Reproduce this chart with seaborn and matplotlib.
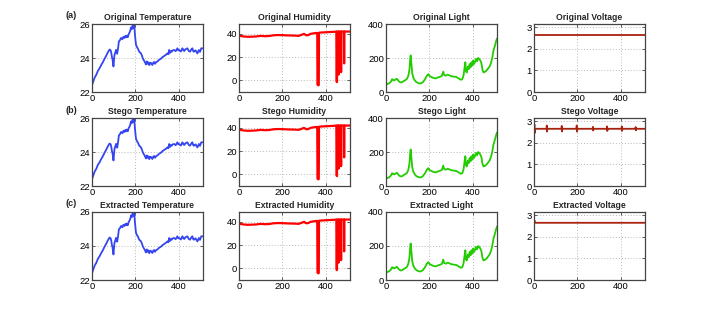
import matplotlib
matplotlib.use("Agg")
import matplotlib.pyplot as plt
import seaborn as sns
import pandas as pd

# ---------------- data ----------------
temp_x = [0, 6, 12, 20, 27, 35, 43, 50, 58, 65, 73, 81, 86, 89, 92, 95, 99, 102, 104, 108, 111, 116, 120,
          124, 129, 134, 140, 145, 150, 154, 157, 161, 165, 169, 173, 177, 180, 184, 188, 192, 195, 198,
          201, 203, 207, 211, 218, 226, 230, 235, 240, 244, 249, 253, 257, 261, 264, 268, 272, 276, 279,
          283, 287, 291, 295, 302, 310, 318, 325, 333, 340, 348, 352, 356, 360, 363, 368, 372, 379, 386,
          394, 398, 402, 410, 417, 421, 425, 432, 440, 446, 452, 458, 463, 467, 470, 478, 486, 490, 493,
          498, 504, 510]
temp_y = [22.40, 22.62, 22.84, 23.02, 23.24, 23.40, 23.60, 23.75, 23.96, 24.12, 24.33, 24.50, 24.45, 24.30,
          24.05, 23.90, 23.50, 23.95, 24.20, 24.35, 24.48, 24.25, 24.55, 24.98, 25.05, 25.18, 25.10,
          25.25, 25.18, 25.30, 25.22, 25.32, 25.22, 25.40, 25.49, 25.62, 25.80, 25.70, 25.94, 25.78,
          25.90, 25.40, 25.00, 24.78, 24.65, 24.57, 24.37, 24.27, 24.15, 23.96, 23.85, 23.76, 23.62,
          23.80, 23.66, 23.74, 23.58, 23.72, 23.71, 23.62, 23.59, 23.74, 23.76, 23.66, 23.75, 23.80,
          23.90, 23.96, 24.05, 24.12, 24.18, 24.27, 24.22, 24.47, 24.30, 24.40, 24.37, 24.45, 24.47,
          24.40, 24.57, 24.45, 24.47, 24.38, 24.57, 24.48, 24.41, 24.52, 24.57, 24.42, 24.37, 24.50,
          24.57, 24.40, 24.37, 24.45, 24.27, 24.38, 24.47, 24.36, 24.57, 24.57]

hum_x = [0, 20, 40, 60, 80, 100, 120, 140, 160, 180, 200, 220, 240, 260, 275, 290, 300, 310, 320, 330,
         345, 358, 361, 362, 366, 368, 369, 380, 400, 420, 440, 449, 450, 452, 453, 458, 459, 460, 470,
         471, 472, 484, 485, 486, 500, 512]
hum_y = [38.5, 37.8, 37.5, 37.6, 37.8, 38.3, 38.0, 38.2, 38.8, 39.0, 38.9, 38.7, 38.6, 38.5, 38.3, 39.3,
         40.0, 38.8, 39.0, 40.0, 40.5, 40.8, 40.8, -3.7, -4.3, -4.0, 41.0, 41.2, 41.4, 41.6, 41.8, 42.0,
         -0.9, -1.5, 42.0, 42.0, 4.9, 42.0, 42.0, 7.1, 42.0, 42.0, 14.6, 42.0, 42.0, 42.0]

light_x = [0, 8, 15, 22, 28, 33, 38, 45, 50, 55, 60, 68, 75, 82, 90, 97, 103, 108, 112, 114, 117, 121,
           126, 132, 140, 150, 160, 170, 180, 188, 195, 200, 210, 220, 230, 240, 250, 258, 264, 268, 275,
           285, 295, 305, 315, 325, 335, 345, 352, 358, 363, 366, 369, 373, 378, 382, 386, 390, 394, 398,
           402, 406, 410, 415, 420, 425, 430, 435, 440, 445, 450, 455, 460, 466, 472, 478, 484, 490, 496,
           502, 507, 512]
light_y = [42, 48, 52, 60, 75, 72, 68, 74, 78, 70, 62, 56, 58, 65, 70, 78, 95, 130, 200, 215, 170, 110,
           85, 70, 58, 52, 50, 58, 75, 95, 105, 95, 88, 82, 80, 86, 90, 95, 120, 100, 96, 102, 96, 92, 90,
           88, 80, 72, 75, 100, 150, 175, 120, 115, 150, 135, 165, 145, 175, 155, 185, 165, 175, 195, 180,
           200, 195, 185, 170, 130, 115, 118, 122, 130, 140, 150, 170, 200, 245, 270, 295, 315]

volt_orig_x = [0, 512]
volt_orig_y = [2.65, 2.65]

volt_stego_x = [0, 2, 3, 5, 58, 59, 60, 62, 127, 128, 129, 131, 196, 197, 198, 200, 271, 272, 273, 275,
                336, 337, 338, 340, 404, 405, 406, 408, 468, 469, 470, 472, 512]
volt_stego_y = [2.65, 2.85, 2.45, 2.65, 2.65, 2.80, 2.52, 2.65, 2.65, 2.78, 2.53, 2.65, 2.65, 2.80,
                2.52, 2.65, 2.65, 2.74, 2.57, 2.65, 2.65, 2.76, 2.55, 2.65, 2.65, 2.76, 2.55, 2.65,
                2.65, 2.73, 2.58, 2.65, 2.65]

volt_ext_x = [0, 2, 4, 512]
volt_ext_y = [2.65, 2.76, 2.65, 2.65]

row_labels = ["(a)", "(b)", "(c)"]
row_names = ["Original", "Stego", "Extracted"]
col_names = ["Temperature", "Humidity", "Light", "Voltage"]

# ---------------- styling ----------------
sns.set_style("white")
plt.rcParams["font.family"] = ["Liberation Sans", "DejaVu Sans"]

W, H = 712, 316
fig = plt.figure(figsize=(W / 100, H / 100), dpi=100)

col_left = [92, 239, 386, 534]
col_w = 111
row_top = [24, 118, 212]
row_h = 68

colors = ["#3545ef", "#ff0000", "#22cc00", "#a8220f"]
ylims = [(22, 26), (-10, 48.5), (0, 400), (0, 3.15)]
yticks = [[22, 24, 26], [0, 20, 40], [0, 200, 400], [0, 1, 2, 3]]

volt_rows = [(volt_orig_x, volt_orig_y), (volt_stego_x, volt_stego_y), (volt_ext_x, volt_ext_y)]

for r in range(3):
    for c in range(4):
        left = col_left[c] / W
        bottom = 1 - (row_top[r] + row_h) / H
        ax = fig.add_axes([left, bottom, col_w / W, row_h / H])
        if c == 0:
            xs, ys = temp_x, temp_y
        elif c == 1:
            xs, ys = hum_x, hum_y
        elif c == 2:
            xs, ys = light_x, light_y
        else:
            xs, ys = volt_rows[r]
        df = pd.DataFrame({"x": xs, "y": ys})
        lw = 1.6 if c == 1 else 1.3
        sns.lineplot(data=df, x="x", y="y", ax=ax, color=colors[c], lw=lw,
                     estimator=None, sort=False)
        ax.set_xlim(0, 512)
        ax.set_ylim(*ylims[c])
        ax.set_xticks([0, 200, 400])
        ax.set_yticks(yticks[c])
        ax.set_xlabel("")
        ax.set_ylabel("")
        ax.grid(True, linestyle=(0, (1, 2)), color="#b8b8b8", lw=0.7)
        ax.set_axisbelow(True)
        for s in ax.spines.values():
            s.set_visible(True)
            s.set_color("#444444")
            s.set_linewidth(0.9)
        ax.tick_params(direction="in", length=2.5, width=0.6, colors="#444444",
                       labelcolor="black", labelsize=6.8, pad=1.5,
                       top=True, right=True, bottom=True, left=True)
        ax.set_title(f"{row_names[r]} {col_names[c]}", fontsize=6.2, fontweight="bold", pad=3)
        if c == 0:
            fig.text(66 / W, 1 - (row_top[r] - 8) / H, row_labels[r], fontsize=6.5,
                     fontweight="bold", ha="left", va="center")

fig.savefig("out.png", dpi=100)
